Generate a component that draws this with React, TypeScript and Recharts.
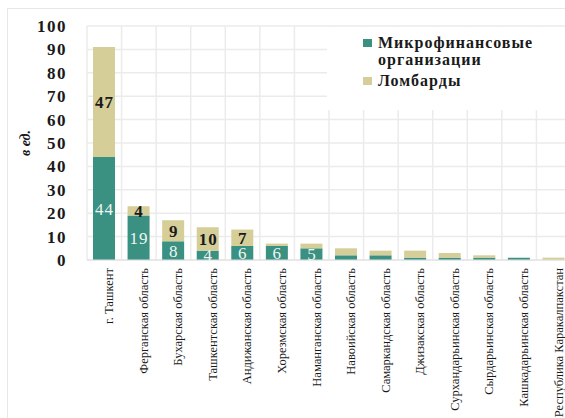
import { BarChart, Bar, XAxis, YAxis, CartesianGrid, LabelList } from 'recharts'

const regions = [
  'г. Ташкент',
  'Ферганская область',
  'Бухарская область',
  'Ташкентская область',
  'Андижанская область',
  'Хорезмская область',
  'Наманганская область',
  'Навоийская область',
  'Самаркандская область',
  'Джизакская область',
  'Сурхандарьинская область',
  'Сырдарьинская область',
  'Кашкадарьинская область',
  'Республика Каракалпакстан',
]
const mfo = [44, 19, 8, 4, 6, 6, 5, 2, 2, 1, 1, 1, 1, 0]
const lombards = [47, 4, 9, 10, 7, 1, 2, 3, 2, 3, 2, 1, 0, 1]
// only the first bars carry value labels in the source
const mfoLabels = ['44', '19', '8', '4', '6', '6', '5', '', '', '', '', '', '', '']
const lombardLabels = ['47', '4', '9', '10', '7', '', '', '', '', '', '', '', '', '']
const yTicks = [0, 10, 20, 30, 40, 50, 60, 70, 80, 90, 100]

const TEAL = '#3a9081'
const KHAKI = '#d5ce98'
const INK = '#1a1a1a'
const SERIF = '"Liberation Serif", "Times New Roman", serif'

const data = regions.map((region, i) => ({
  region,
  mfo: mfo[i],
  lombard: lombards[i],
  mfoLabel: mfoLabels[i],
  lombardLabel: lombardLabels[i],
}))

const segmentLabel = (color: string, bold: boolean) => (props: any) => {
  const { x, y, width, height, value } = props
  if (!value) return null
  return (
    <text
      x={x + width / 2 + 0.5}
      y={y + height / 2}
      dy="0.36em"
      textAnchor="middle"
      fill={color}
      style={{ fontFamily: SERIF, fontSize: 17, letterSpacing: 1, fontWeight: bold ? 'bold' : 'normal' }}
    >
      {value}
    </text>
  )
}

function LegendBox() {
  const mark = (c: string) => ({ position: 'absolute', left: -15, top: 5, width: 9, height: 8, background: c } as const)
  return (
    <div
      style={{
        position: 'absolute',
        left: 327,
        top: 27,
        background: '#fff',
        width: 238,
        height: 83,
        padding: '7px 0 0 51px',
        boxSizing: 'border-box',
        fontFamily: SERIF,
        fontWeight: 'bold',
        fontSize: 16,
        letterSpacing: 1,
        lineHeight: '17px',
        color: INK,
      }}
    >
      <div style={{ position: 'relative' }}>
        <span style={mark(TEAL)} />
        Микрофинансовые<br />организации
      </div>
      <div style={{ position: 'relative', marginTop: 4 }}>
        <span style={mark(KHAKI)} />
        Ломбарды
      </div>
    </div>
  )
}

export default function App() {
  const n = regions.length
  return (
    <div style={{ position: 'absolute', left: 0, top: 0, width: 565, height: 418, background: '#fff', overflow: 'hidden' }}>
      <div style={{ position: 'absolute', left: 7, top: 8, width: 570, height: 420, border: '1px solid #e8e8e8' }} />
      <BarChart
        width={571}
        height={418}
        data={data}
        margin={{ top: 26, right: 0, bottom: 0, left: 0 }}
        barSize={22}
      >
        <CartesianGrid
          stroke="#ebebeb"
          strokeWidth={1.5}
          verticalCoordinatesGenerator={({ offset }: any) =>
            Array.from({ length: n + 1 }, (_, i) => offset.left + (i * offset.width) / n)
          }
        />
        <XAxis
          dataKey="region"
          interval={0}
          angle={-90}
          textAnchor="end"
          height={158}
          tickLine={false}
          axisLine={{ stroke: '#e0e0e0' }}
          tick={{ fontSize: 12.5, fill: INK, style: { fontFamily: SERIF } }}
          tickMargin={2}
        />
        <YAxis
          domain={[0, 100]}
          ticks={yTicks}
          interval={0}
          width={87}
          tickLine={false}
          axisLine={false}
          tickMargin={14}
          tick={{ fontSize: 17, fill: INK, style: { fontFamily: SERIF, fontWeight: 'bold', letterSpacing: 1.5 } }}
          label={{
            value: 'в ед.',
            angle: -90,
            position: 'insideLeft',
            offset: 25,
            style: { fontFamily: SERIF, fontSize: 14, fontStyle: 'italic', fontWeight: 'bold', fill: INK, textAnchor: 'middle' },
          }}
        />
        <Bar dataKey="mfo" stackId="a" fill={TEAL} isAnimationActive={false}>
          <LabelList dataKey="mfoLabel" content={segmentLabel('#eef6f3', false)} />
        </Bar>
        <Bar dataKey="lombard" stackId="a" fill={KHAKI} isAnimationActive={false}>
          <LabelList dataKey="lombardLabel" content={segmentLabel(INK, true)} />
        </Bar>
      </BarChart>
      <LegendBox />
    </div>
  )
}
